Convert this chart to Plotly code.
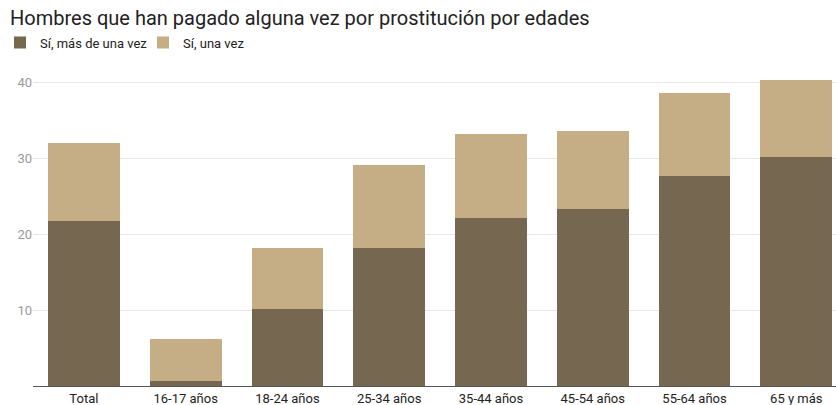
import plotly.graph_objects as go

# Age groups and share (%) of men who have paid for sex
categories = ["Total", "16-17 años", "18-24 años", "25-34 años",
              "35-44 años", "45-54 años", "55-64 años", "65 y más"]
mas_de_una_vez = [21.8, 0.6, 10.2, 18.2, 22.2, 23.4, 27.7, 30.2]
una_vez = [10.3, 5.6, 8.0, 11.0, 11.0, 10.3, 10.9, 10.2]

series_names = ["Sí, más de una vez", "Sí, una vez"]
y_ticks = [10, 20, 30, 40]

DARK = "#766850"
LIGHT = "#c5ad85"
FONT = "Roboto, Arial, sans-serif"

fig = go.Figure()
fig.add_trace(go.Bar(x=list(range(len(categories))), y=mas_de_una_vez,
                     name=series_names[0], marker_color=DARK,
                     marker_line_width=0, width=0.705))
fig.add_trace(go.Bar(x=list(range(len(categories))), y=una_vez,
                     name=series_names[1], marker_color=LIGHT,
                     marker_line_width=0, width=0.705))

fig.update_layout(
    width=836, height=405,
    barmode="stack",
    paper_bgcolor="white", plot_bgcolor="white",
    margin=dict(l=33, r=0, t=70, b=19),
    font=dict(family=FONT, size=13, color="#222222"),
    title=dict(text="Hombres que han pagado alguna vez por prostitución por edades",
               x=0.012, xanchor="left", xref="container",
               y=0.955, yanchor="middle", yref="container",
               font=dict(size=20, color="#222222", family=FONT)),
    legend=dict(orientation="h", x=-0.008, xref="container", xanchor="left",
                y=0.895, yref="container", yanchor="middle",
                font=dict(size=13, color="#222222"),
                entrywidth=98, entrywidthmode="pixels",
                traceorder="normal", itemclick=False),
    showlegend=True,
    bargap=0,
)

fig.update_xaxes(
    tickmode="array", tickvals=list(range(len(categories))), ticktext=categories,
    range=[-0.5, 7.39], showgrid=False, zeroline=False,
    showline=True, linecolor="#555555", linewidth=1.2,
    ticks="", tickfont=dict(size=13, color="#222222"), automargin=False,
)
fig.update_yaxes(
    range=[0, 41.7], tickmode="array", tickvals=y_ticks,
    showgrid=True, gridcolor="#e6e6e6", gridwidth=1,
    zeroline=False, showline=False, ticks="",
    tickfont=dict(size=13, color="#9a9a9a"), automargin=False,
)

fig.write_html("out.html")
